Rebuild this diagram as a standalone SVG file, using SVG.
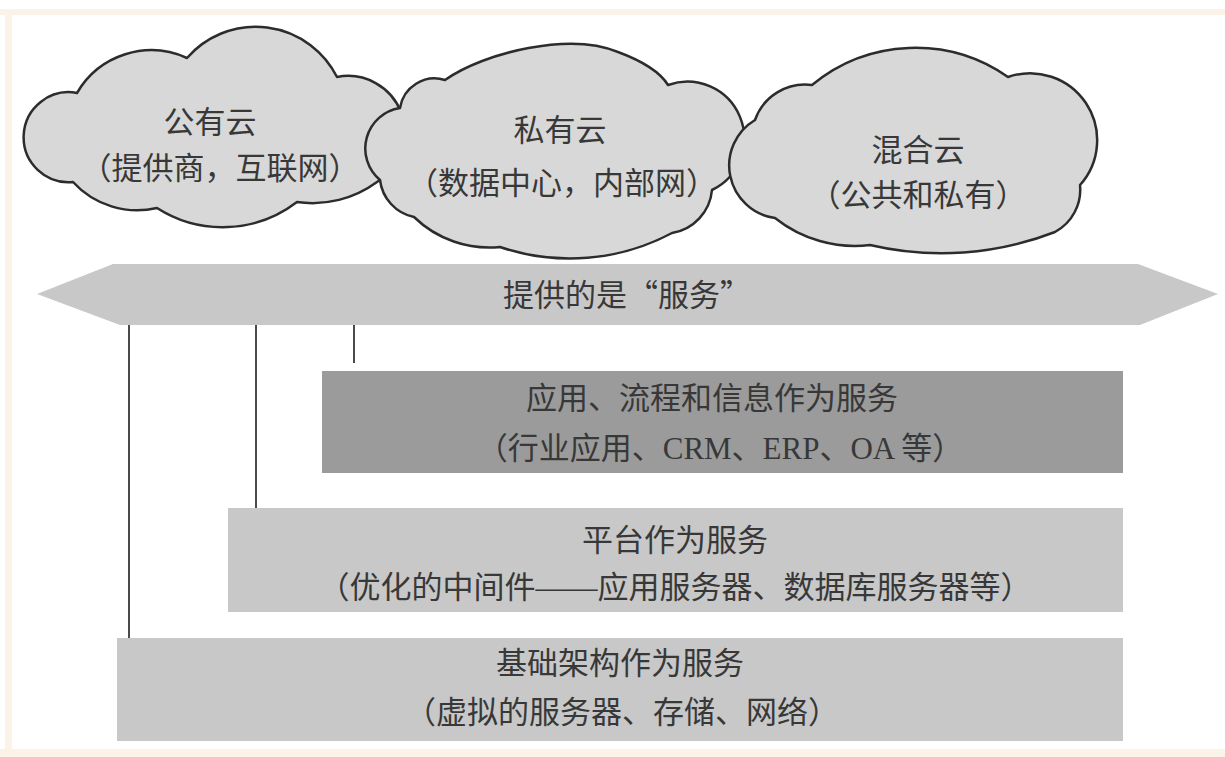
<svg xmlns="http://www.w3.org/2000/svg" width="1225" height="757" viewBox="0 0 1225 757">
<style>
.t{font-family:"Liberation Serif","Noto Sans CJK SC",serif;font-size:31px;fill:#383838;text-anchor:middle}
.tc{font-family:"Noto Sans CJK SC","Liberation Serif",serif;font-size:31px;fill:#383838;text-anchor:middle}
.cloud{fill:#d8d8d8;stroke:#2c2c2c;stroke-width:2.5;stroke-linejoin:round}
.box{stroke:none}
.conn{stroke:#4a4a4a;stroke-width:2;fill:none}
</style>
<rect x="0" y="0" width="1225" height="757" fill="#ffffff"/>
<rect x="0" y="9" width="1225" height="6" fill="#fbf3e8"/>
<rect x="5" y="9" width="7" height="748" fill="#fbf3e8"/>
<rect x="0" y="749" width="1225" height="8" fill="#fbf3e8"/>

<g id="cloud-public">
<path class="cloud" d="M77,93 A86,86 0 0 1 187,58 A91,91 0 0 1 337,77 A57,57 0 0 1 377,182 A109,109 0 0 1 297,202 A122,122 0 0 1 157,208 A87,87 0 0 1 73,182 A45,45 0 1 1 77,93 Z"/>
<text class="tc" x="210" y="133">公有云</text>
<text class="tc" x="220" y="179">（提供商，互联网）</text>
</g>
<g id="cloud-private">
<path class="cloud" d="M445,80 C485,52 570,32 618,52 C645,62 660,72 668,85 A57,57 0 0 1 712,190 A48,48 0 0 1 672,233 A217,217 0 0 1 500,247 A108,108 0 0 1 414,217 A43,43 0 0 1 380,180 A41,41 0 0 1 400,108 A35,35 0 0 1 445,80 Z"/>
<text class="tc" x="560" y="141">私有云</text>
<text class="tc" x="562" y="194">（数据中心，内部网）</text>
</g>
<g id="cloud-hybrid">
<path class="cloud" d="M812,85 A162,162 0 0 1 1008,77 A67,67 0 0 1 1080,185 A48,48 0 0 1 1055,232 A313,313 0 0 1 870,245 A128,128 0 0 1 775,218 A53,53 0 0 1 755,120 A53,53 0 0 1 812,85 Z"/>
<text class="tc" x="918" y="161">混合云</text>
<text class="tc" x="918" y="206">（公共和私有）</text>
</g>

<g id="band">
<polygon points="37,294 113,264 1138,264 1218,294 1140,325 120,325" fill="#c8c8c8"/>
<text class="tc" x="627" y="306">提供的是“服务”</text>
</g>

<g id="connectors">
<line class="conn" x1="129" y1="325" x2="129" y2="638"/>
<line class="conn" x1="256" y1="325" x2="256" y2="508"/>
<line class="conn" x1="354" y1="325" x2="354" y2="363"/>
</g>

<g id="saas">
<rect class="box" x="322" y="371" width="801" height="102" fill="#9b9b9b"/>
<text class="t" x="712" y="409">应用、流程和信息作为服务</text>
<text class="t" x="720" y="459">（行业应用、CRM、ERP、OA 等）</text>
</g>
<g id="paas">
<rect class="box" x="228" y="508" width="895" height="104" fill="#c8c8c8"/>
<text class="t" x="675" y="551">平台作为服务</text>
<text class="t" x="675" y="598">（优化的中间件——应用服务器、数据库服务器等）</text>
</g>
<g id="iaas">
<rect class="box" x="117" y="638" width="1006" height="103" fill="#c8c8c8"/>
<text class="t" x="620" y="674">基础架构作为服务</text>
<text class="t" x="622" y="723">（虚拟的服务器、存储、网络）</text>
</g>
</svg>
